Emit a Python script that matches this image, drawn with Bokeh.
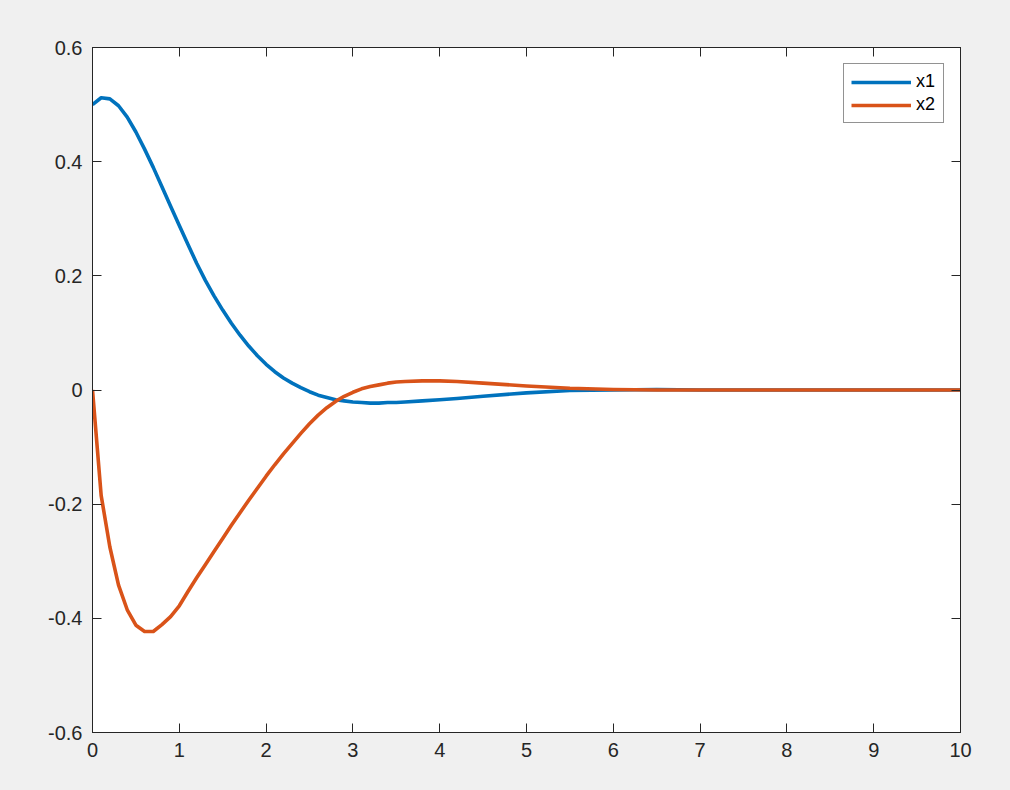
from bokeh.plotting import figure
from bokeh.models import Range1d, LinearAxis, FixedTicker, Legend, LegendItem, ColumnDataSource
from bokeh.embed import file_html
from bokeh.resources import INLINE

# time samples (s)
t = [0.0, 0.1, 0.2, 0.3, 0.4, 0.5, 0.6, 0.7, 0.8, 0.9,
     1.0, 1.1, 1.2, 1.3, 1.4, 1.5, 1.6, 1.7, 1.8, 1.9,
     2.0, 2.1, 2.2, 2.3, 2.4, 2.5, 2.6, 2.7, 2.8, 2.9,
     3.0, 3.1, 3.2, 3.3, 3.4, 3.5, 3.6, 3.8, 4.0,
     4.2, 4.5, 5.0, 5.5, 6.0, 6.5, 7.0, 8.0, 9.0, 10.0]
x1 = [0.500, 0.512, 0.510, 0.498, 0.478, 0.452, 0.422, 0.390, 0.356, 0.322,
      0.288, 0.255, 0.222, 0.192, 0.165, 0.140, 0.117, 0.096, 0.077, 0.060,
      0.045, 0.032, 0.021, 0.012, 0.004, -0.003, -0.009, -0.013, -0.017, -0.019,
      -0.021, -0.022, -0.023, -0.023, -0.022, -0.022, -0.021, -0.019, -0.017,
      -0.015, -0.011, -0.005, -0.001, 0.000, 0.001, 0.0, 0.0, 0.0, 0.0]
x2 = [0.000, -0.185, -0.275, -0.342, -0.385, -0.412, -0.423, -0.423, -0.411, -0.397,
      -0.378, -0.353, -0.329, -0.306, -0.283, -0.260, -0.237, -0.215, -0.193, -0.172,
      -0.151, -0.131, -0.112, -0.094, -0.076, -0.059, -0.044, -0.031, -0.020, -0.011,
      -0.004, 0.002, 0.006, 0.009, 0.012, 0.014, 0.015, 0.016, 0.016,
      0.015, 0.012, 0.007, 0.003, 0.001, 0.0, 0.0, 0.0, 0.0, 0.0]

x_ticks = [0, 1, 2, 3, 4, 5, 6, 7, 8, 9, 10]
y_ticks = [-0.6, -0.4, -0.2, 0, 0.2, 0.4, 0.6]
y_labels = ["-0.6", "-0.4", "-0.2", "0", "0.2", "0.4", "0.6"]
series_names = ["x1", "x2"]
series_colors = ["#0072BD", "#D95319"]

AX = "#262626"
BG = "#f0f0f0"
FONT = "Liberation Sans"

p = figure(output_backend="svg", toolbar_location=None,
           frame_width=868, frame_height=685,
           min_border_left=92, min_border_right=42, min_border_top=47, min_border_bottom=50,
           x_range=Range1d(0, 10), y_range=Range1d(-0.6, 0.6),
           x_axis_location=None, y_axis_location=None)
p.background_fill_color = "white"
p.border_fill_color = BG
p.outline_line_color = AX
p.outline_line_width = 1
p.xgrid.visible = False
p.ygrid.visible = False

def style_axis(ax, labels=True):
    ax.axis_line_color = AX
    ax.axis_line_width = 1
    ax.major_tick_line_color = AX
    ax.major_tick_in = 9
    ax.major_tick_out = 0
    ax.minor_tick_line_color = None
    ax.major_label_text_font = FONT
    if labels:
        ax.major_label_text_color = AX
        ax.major_label_text_font_size = "20px"
        ax.major_label_standoff = 10
    else:
        ax.major_label_text_color = None
        ax.major_label_text_font_size = "8px"
        ax.major_label_standoff = 0

bx = LinearAxis(ticker=FixedTicker(ticks=x_ticks))
style_axis(bx)
p.add_layout(bx, "below")
tx = LinearAxis(ticker=FixedTicker(ticks=x_ticks))
style_axis(tx, labels=False)
p.add_layout(tx, "above")
ly = LinearAxis(ticker=FixedTicker(ticks=y_ticks))
style_axis(ly)
ly.major_label_overrides = {v: s for v, s in zip(y_ticks, y_labels)}
p.add_layout(ly, "left")
ry = LinearAxis(ticker=FixedTicker(ticks=y_ticks))
style_axis(ry, labels=False)
p.add_layout(ry, "right")

src = ColumnDataSource(dict(t=t, x1=x1, x2=x2))
items = []
for name, col in zip(series_names, series_colors):
    r = p.line("t", name, source=src, line_color=col, line_width=3.6,
               line_join="round")
    items.append(LegendItem(label=name, renderers=[r]))

leg = Legend(items=items, location="top_right")
leg.margin = 16
leg.padding = 7
leg.spacing = 2
leg.glyph_width = 60
leg.glyph_height = 20
leg.label_standoff = 5
leg.label_text_font = FONT
leg.label_text_font_size = "18px"
leg.label_text_color = "black"
leg.border_line_color = AX
leg.border_line_width = 1
leg.background_fill_color = "white"
leg.background_fill_alpha = 1.0
p.add_layout(leg, "center")

html = file_html(p, INLINE)
html = html.replace("<head>", "<head><style>html,body{background:#f0f0f0;}</style>", 1)
open("out.html", "w").write(html)
